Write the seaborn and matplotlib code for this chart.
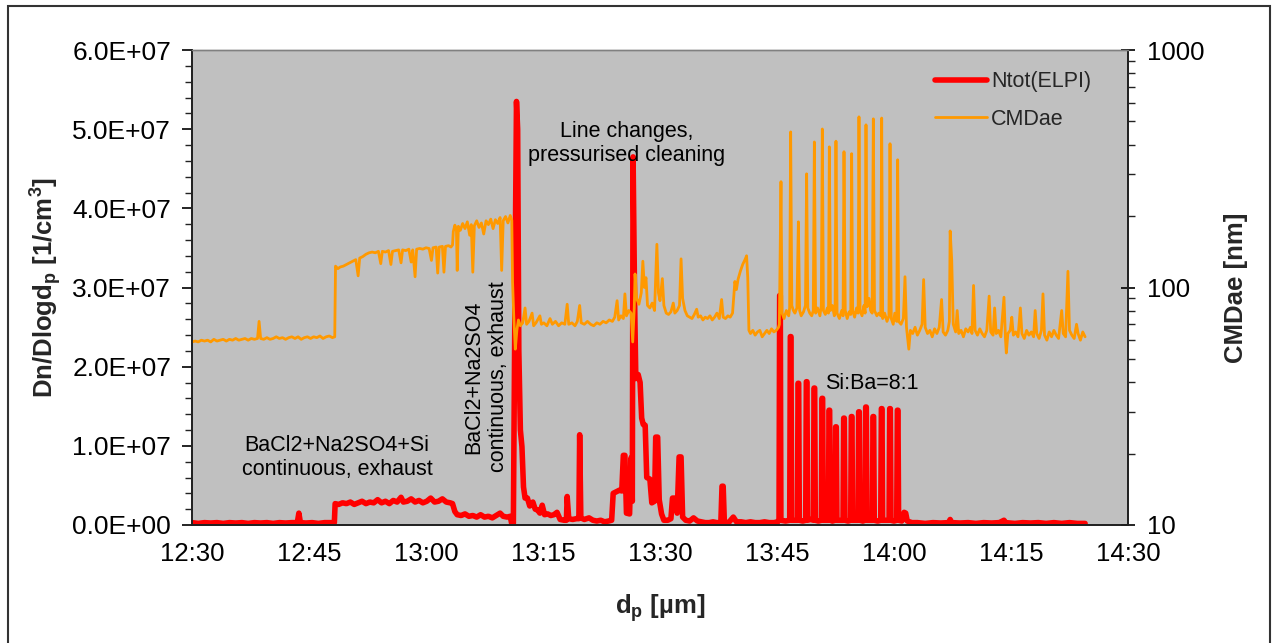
import matplotlib
matplotlib.use("Agg")
import matplotlib.pyplot as plt
import numpy as np
import pandas as pd
import seaborn as sns
from matplotlib.ticker import FuncFormatter, MultipleLocator, FixedLocator, LogLocator, NullFormatter
from matplotlib.patches import Rectangle
from matplotlib.lines import Line2D

# ---------------- data (time = minutes after 12:30) ----------------
xtick_minutes = [0, 15, 30, 45, 60, 75, 90, 105, 120]
xtick_labels = ["12:30", "12:45", "13:00", "13:15", "13:30", "13:45", "14:00", "14:15", "14:30"]

# Ntot(ELPI) in units of 1e6 1/cm3
ntot_points = [
    (0.0, 0.3), (0.8, 0.2), (1.6, 0.3), (2.4, 0.25), (3.2, 0.3), (4.0, 0.2), (4.8, 0.3), (5.6, 0.25),
    (6.4, 0.3), (7.2, 0.2), (8.0, 0.3), (8.8, 0.25), (9.6, 0.3), (10.4, 0.2), (11.2, 0.3), (12.0, 0.25),
    (12.8, 0.3), (13.5, 0.3), (13.7, 1.5), (13.9, 0.3), (14.6, 0.25), (15.4, 0.3), (16.2, 0.2), (17.0, 0.3),
    (17.8, 0.3), (18.25, 0.3), (18.35, 2.7), (18.8, 2.6), (19.3, 2.8), (19.8, 2.7), (20.3, 2.9), (20.8, 2.6),
    (21.3, 2.8), (21.8, 3.0), (22.3, 2.7), (22.8, 2.9), (23.3, 2.8), (23.8, 3.2), (24.3, 2.8), (24.8, 3.0),
    (25.3, 2.7), (25.8, 3.1), (26.3, 2.9), (26.8, 3.5), (27.1, 2.9), (27.6, 3.0), (28.1, 3.3), (28.6, 2.9),
    (29.1, 3.1), (29.6, 2.8), (30.1, 3.0), (30.6, 3.4), (31.1, 2.9), (31.6, 3.0), (32.1, 3.3), (32.6, 2.9),
    (33.1, 2.8), (33.4, 2.7), (33.7, 1.7), (34.0, 1.3), (34.5, 1.2), (35.0, 1.4), (35.5, 1.1), (36.0, 1.2),
    (36.5, 1.0), (37.0, 1.3), (37.5, 1.0), (38.0, 1.1), (38.5, 0.9), (39.0, 1.2), (39.5, 1.5), (39.9, 1.1),
    (40.4, 1.0), (40.8, 1.1), (41.0, 0.1), (41.2, 0.2), (41.45, 35.0), (41.6, 53.5), (41.75, 50.0),
    (41.9, 22.0), (42.1, 12.0), (42.3, 9.9), (42.5, 4.8), (42.7, 3.4), (43.0, 3.4), (43.3, 2.4), (43.7, 2.9),
    (44.0, 2.0), (44.3, 1.9), (44.6, 1.5), (44.9, 2.5), (45.2, 1.3), (45.6, 1.4), (46.0, 1.2), (46.4, 1.3),
    (46.8, 1.6), (47.2, 0.7), (47.7, 0.6), (48.0, 0.6), (48.1, 3.6), (48.3, 0.8), (48.8, 0.7), (49.3, 0.8),
    (49.6, 0.8), (49.7, 11.4), (49.85, 0.9), (50.3, 0.7), (50.9, 0.9), (51.4, 0.6), (51.9, 0.5), (52.4, 0.6),
    (52.9, 0.4), (53.4, 0.5), (53.8, 0.6), (54.0, 4.0), (54.4, 4.2), (54.8, 4.4), (55.1, 4.3), (55.3, 8.8),
    (55.5, 8.8), (55.7, 1.5), (56.1, 1.4), (56.3, 8.5), (56.45, 3.0), (56.55, 46.5), (56.75, 28.0),
    (56.9, 18.5), (57.2, 19.0), (57.45, 18.0), (57.65, 13.5), (57.85, 12.7), (58.1, 12.6), (58.3, 6.0),
    (58.7, 5.8), (58.95, 2.8), (59.3, 3.0), (59.45, 11.1), (59.7, 11.1), (59.9, 3.2), (60.2, 1.4),
    (60.5, 0.6), (61.0, 0.6), (61.4, 0.8), (61.6, 3.4), (62.0, 3.4), (62.2, 1.5), (62.45, 8.6), (62.7, 8.6),
    (62.9, 1.0), (63.3, 0.6), (63.8, 0.5), (64.3, 0.9), (64.8, 0.5), (65.3, 0.4), (65.8, 0.3), (66.3, 0.3),
    (66.8, 0.4), (67.3, 0.3), (67.8, 0.3), (67.95, 4.9), (68.1, 4.9), (68.25, 0.4), (68.8, 0.3), (69.4, 1.0),
    (69.8, 0.4), (70.4, 0.4), (71.0, 0.3), (71.6, 0.4), (72.2, 0.3), (72.8, 0.3), (73.4, 0.4), (74.0, 0.3),
    (74.6, 0.3), (75.1, 0.4),
    (75.26, 0.6), (75.34, 29.0), (75.42, 29.0), (75.50, 0.6), (76.1, 0.5),
    (76.63, 0.6), (76.71, 23.8), (76.79, 23.8), (76.87, 0.6), (77.3, 0.6),
    (77.62, 0.6), (77.70, 17.9), (77.78, 17.9), (77.86, 0.6), (78.3, 0.5),
    (78.68, 0.6), (78.76, 18.1), (78.84, 18.1), (78.92, 0.6), (79.3, 0.7),
    (79.67, 0.6), (79.75, 17.3), (79.83, 17.3), (79.91, 0.6), (80.3, 0.5),
    (80.69, 0.6), (80.77, 16.0), (80.85, 16.0), (80.93, 0.6), (81.3, 0.6),
    (81.59, 0.6), (81.67, 14.5), (81.75, 14.5), (81.83, 0.6), (82.1, 0.5),
    (82.44, 0.6), (82.52, 12.4), (82.60, 12.4), (82.68, 0.6), (83.1, 0.6),
    (83.47, 0.6), (83.55, 13.5), (83.63, 13.5), (83.71, 0.6), (84.1, 0.5),
    (84.45, 0.6), (84.53, 13.7), (84.61, 13.7), (84.69, 0.6), (85.0, 0.6),
    (85.39, 0.6), (85.47, 14.3), (85.55, 14.3), (85.63, 0.6), (86.0, 0.5),
    (86.29, 0.6), (86.37, 14.9), (86.45, 14.9), (86.53, 0.6), (86.9, 0.6),
    (87.23, 0.6), (87.31, 13.7), (87.39, 13.7), (87.47, 0.6), (87.9, 0.5),
    (88.30, 0.6), (88.38, 14.7), (88.46, 14.7), (88.54, 0.6), (89.0, 0.6),
    (89.37, 0.6), (89.45, 14.7), (89.53, 14.7), (89.61, 0.6), (90.0, 0.5),
    (90.35, 0.6), (90.43, 14.5), (90.51, 14.5), (90.59, 0.6),
    (91.0, 0.5), (91.3, 1.6), (91.5, 1.5), (91.7, 0.5), (92.3, 0.3), (93.0, 0.3), (94.0, 0.2), (95.0, 0.3),
    (96.0, 0.25), (97.0, 0.3), (97.2, 0.7), (97.4, 0.3), (98.5, 0.25), (99.5, 0.3), (100.5, 0.2),
    (101.5, 0.3), (102.5, 0.25), (103.5, 0.3), (104.1, 0.6), (104.3, 0.3), (105.5, 0.2), (106.5, 0.3),
    (107.5, 0.25), (108.5, 0.3), (109.5, 0.2), (110.5, 0.3), (111.5, 0.2), (112.5, 0.3), (113.5, 0.2),
    (114.5, 0.2),
]

# CMDae in nm
cmd_points = [
    (0.0, 59.0), (0.4, 59.5), (0.8, 59.0), (1.2, 60.0), (1.6, 59.5), (2.0, 60.0), (2.4, 59.0), (2.8, 60.5),
    (3.2, 59.5), (3.6, 60.0), (4.0, 60.5), (4.4, 59.5), (4.8, 60.5), (5.2, 60.0), (5.6, 61.0), (6.0, 60.0),
    (6.4, 60.5), (6.8, 61.0), (7.2, 60.0), (7.6, 61.0), (8.0, 60.5), (8.4, 61.0), (8.6, 72.0), (8.8, 61.0),
    (9.2, 60.5), (9.6, 61.5), (10.0, 60.5), (10.4, 61.0), (10.8, 62.0), (11.2, 61.0), (11.6, 61.5),
    (12.0, 60.5), (12.4, 61.5), (12.8, 62.0), (13.2, 61.0), (13.6, 62.0), (14.0, 60.5), (14.4, 61.5),
    (14.8, 62.0), (15.2, 61.0), (15.6, 62.0), (16.0, 61.5), (16.4, 62.5), (16.8, 61.0), (17.2, 62.0),
    (17.6, 62.5), (18.0, 61.5), (18.3, 62.0),
    (18.4, 123), (18.7, 120), (19.0, 122), (19.4, 123), (19.8, 125), (20.2, 127), (20.6, 129), (21.0, 131),
    (21.3, 112), (21.5, 133), (21.9, 135), (22.3, 138), (22.7, 140), (23.1, 141), (23.5, 140), (23.9, 142),
    (24.2, 126), (24.4, 142), (24.8, 141), (25.2, 143), (25.5, 125), (25.7, 142), (26.1, 143), (26.5, 144),
    (26.8, 127), (27.0, 144), (27.4, 143), (27.8, 145), (28.1, 128), (28.3, 144), (28.6, 111), (28.8, 145),
    (29.2, 146), (29.6, 145), (30.0, 147), (30.4, 146), (30.7, 130), (30.9, 147), (31.3, 148), (31.5, 115),
    (31.7, 148), (32.1, 149), (32.3, 116), (32.5, 149), (32.9, 150), (33.2, 148), (33.4, 151),
    (33.5, 172), (33.7, 183), (33.9, 176), (34.0, 118), (34.15, 181), (34.4, 174), (34.7, 186), (35.0, 177),
    (35.3, 189), (35.6, 166), (35.8, 184), (36.0, 116), (36.2, 182), (36.5, 191), (36.8, 179), (37.1, 187),
    (37.4, 168), (37.7, 191), (38.0, 184), (38.3, 194), (38.6, 177), (38.9, 193), (39.2, 186), (39.5, 197),
    (39.7, 118), (39.9, 191), (40.2, 199), (40.5, 187), (40.8, 201), (41.0, 192),
    (41.1, 105), (41.25, 76), (41.45, 55), (41.65, 66), (41.85, 73), (42.1, 69), (42.4, 71), (42.7, 82),
    (42.9, 70), (43.2, 72), (43.6, 78), (43.8, 69), (44.1, 71), (44.6, 76), (44.8, 70), (45.1, 71),
    (45.5, 69), (45.9, 74), (46.2, 70), (46.6, 72), (47.0, 69), (47.4, 71), (47.8, 70), (48.1, 85),
    (48.3, 70), (48.7, 71), (49.1, 69), (49.4, 72), (49.7, 84), (49.9, 71), (50.3, 70), (50.7, 72),
    (51.1, 70), (51.5, 69), (51.9, 71), (52.3, 70), (52.7, 72), (53.1, 71), (53.5, 73), (53.9, 72),
    (54.2, 75), (54.5, 88), (54.7, 73), (55.0, 76), (55.3, 74), (55.5, 94), (55.7, 76), (56.0, 80),
    (56.3, 78), (56.5, 59), (56.7, 82), (56.8, 114), (57.0, 90), (57.3, 85), (57.6, 95), (57.8, 129),
    (58.0, 100), (58.2, 110), (58.4, 84), (58.7, 82), (59.0, 86), (59.3, 80), (59.6, 152), (59.8, 95),
    (60.0, 88), (60.3, 109), (60.5, 84), (60.8, 78), (61.1, 77), (61.4, 79), (61.7, 86), (61.9, 78),
    (62.2, 80), (62.5, 84), (62.7, 132), (62.9, 90), (63.2, 80), (63.5, 76), (63.8, 75), (64.1, 74),
    (64.4, 77), (64.7, 81), (64.9, 75), (65.2, 76), (65.5, 73), (65.8, 75), (66.1, 74), (66.4, 76),
    (66.7, 73), (67.0, 75), (67.3, 78), (67.6, 74), (67.9, 89), (68.1, 75), (68.4, 74), (68.7, 76),
    (69.0, 75), (69.3, 78), (69.6, 106), (69.8, 98), (70.0, 108), (70.3, 117), (70.6, 125), (70.9, 131),
    (71.1, 136), (71.25, 110), (71.4, 66),
    (71.6, 64), (71.9, 66), (72.2, 63), (72.5, 65), (72.8, 66), (73.1, 62), (73.4, 64), (73.7, 66),
    (74.0, 64), (74.3, 67), (74.6, 65), (74.9, 66), (75.2, 68),
    (75.3, 70), (75.51, 279), (75.65, 78), (75.9, 74), (76.2, 80), (76.5, 76), (76.62, 82), (76.75, 452),
    (76.9, 84), (77.1, 80), (77.3, 78), (77.55, 82), (77.74, 189), (77.9, 80), (78.1, 76), (78.4, 79),
    (78.65, 84), (78.80, 301), (78.95, 82), (79.2, 78), (79.45, 76), (79.65, 80), (79.79, 410), (79.95, 78),
    (80.2, 82), (80.5, 76), (80.68, 84), (80.81, 465), (80.95, 80), (81.2, 77), (81.45, 82), (81.6, 78),
    (81.71, 391), (81.85, 80), (82.1, 84), (82.35, 76), (82.45, 82), (82.56, 413), (82.7, 78), (83.0, 74),
    (83.3, 80), (83.47, 76), (83.59, 373), (83.75, 80), (84.0, 74), (84.25, 79), (84.45, 77), (84.57, 366),
    (84.7, 80), (84.95, 75), (85.2, 82), (85.4, 78), (85.51, 523), (85.65, 80), (85.9, 76), (86.15, 84),
    (86.3, 78), (86.41, 484), (86.55, 83), (86.8, 90), (87.0, 80), (87.2, 78), (87.35, 513), (87.5, 80),
    (87.8, 76), (88.05, 78), (88.3, 76), (88.42, 517), (88.55, 74), (88.8, 78), (89.1, 72), (89.35, 76),
    (89.49, 403), (89.65, 74), (89.9, 70), (90.1, 78), (90.35, 72), (90.47, 345), (90.6, 72), (90.9, 70),
    (91.2, 74), (91.41, 111), (91.6, 68), (91.9, 55), (92.1, 66),
    (92.4, 64), (92.7, 68), (93.0, 63), (93.3, 66), (93.6, 70), (93.8, 108), (94.0, 68), (94.3, 64),
    (94.6, 66), (94.9, 62), (95.2, 67), (95.5, 64), (95.8, 68), (96.1, 89), (96.3, 65), (96.6, 63),
    (96.9, 66), (97.1, 72), (97.2, 173), (97.4, 130), (97.6, 70), (97.9, 65), (98.1, 80), (98.3, 64),
    (98.6, 66), (98.9, 62), (99.2, 67), (99.5, 65), (99.8, 68), (100.0, 64), (100.2, 102), (100.4, 66),
    (100.7, 63), (101.0, 67), (101.3, 64), (101.6, 62), (101.9, 66), (102.2, 92), (102.4, 65), (102.7, 63),
    (102.9, 82), (103.1, 64), (103.4, 66), (103.7, 62), (104.1, 91), (104.3, 60), (104.4, 53), (104.6, 64),
    (104.9, 66), (105.1, 75), (105.3, 63), (105.6, 65), (105.9, 62), (106.2, 82), (106.4, 64), (106.7, 61),
    (107.0, 66), (107.3, 63), (107.6, 65), (107.9, 62), (108.1, 80), (108.3, 64), (108.6, 61), (108.9, 66),
    (109.1, 94), (109.3, 63), (109.6, 60), (109.9, 65), (110.2, 62), (110.5, 66), (110.8, 63), (111.1, 61),
    (111.5, 80), (111.7, 64), (112.0, 62), (112.3, 117), (112.5, 66), (112.8, 63), (113.1, 61), (113.4, 70),
    (113.6, 64), (113.9, 60), (114.2, 65), (114.5, 62),
]

annotations = [
    ("BaCl2+Na2SO4+Si\ncontinuous, exhaust", 18.6, 8.5e6, 0),
    ("BaCl2+Na2SO4\ncontinuous, exhaust", 37.7, 18.7e6, 90),
    ("Line changes,\npressurised cleaning", 55.7, 48.2e6, 0),
    ("Si:Ba=8:1", 87.1, 17.9e6, 0),
]

# ---------------- styling ----------------
sns.set_style("white")
plt.rcParams["font.family"] = ["Liberation Sans", "DejaVu Sans"]
plt.rcParams["mathtext.default"] = "regular"

W, H = 1276, 643
fig = plt.figure(figsize=(W / 100, H / 100), dpi=100)
fig.patch.set_facecolor("white")
ax = fig.add_axes([192 / W, 1 - 525 / H, 936 / W, 475 / H])
ax.set_facecolor("#C0C0C0")

ntot_df = pd.DataFrame(ntot_points, columns=["time", "ntot"])
ntot_df["ntot"] = ntot_df["ntot"] * 1e6
cmd_df = pd.DataFrame(cmd_points, columns=["time", "cmd"])

red = "#FF0000"
orange = "#FF9900"
red_lw = 4.0
orange_lw = 2.0

sns.lineplot(data=ntot_df, x="time", y="ntot", ax=ax, color=red, linewidth=red_lw,
             estimator=None, sort=False, legend=False)
ax2 = ax.twinx()
sns.lineplot(data=cmd_df, x="time", y="cmd", ax=ax2, color=orange, linewidth=orange_lw,
             estimator=None, sort=False, legend=False)

ax.set_xlim(0, 120)
ax.set_ylim(0, 6e7)
ax2.set_yscale("log")
ax2.set_ylim(10, 1000)

# x ticks
ax.xaxis.set_major_locator(FixedLocator(xtick_minutes))
ax.set_xticklabels(xtick_labels)
ax.xaxis.set_minor_locator(MultipleLocator(5))
ax.tick_params(axis="x", which="major", direction="inout", length=12, width=1.2,
               pad=6, labelsize=18.5, colors="black")
ax.tick_params(axis="x", which="minor", direction="out", length=6, width=1.0, colors="#222222")

# left y ticks
ax.yaxis.set_major_locator(MultipleLocator(1e7))
ax.yaxis.set_minor_locator(MultipleLocator(2e6))
ax.yaxis.set_major_formatter(FuncFormatter(lambda v, p: f"{v:.1E}"))
ax.tick_params(axis="y", which="major", direction="out", length=7, width=1.2, pad=8,
               labelsize=19, colors="black")
ax.tick_params(axis="y", which="minor", direction="out", length=5, width=1.0, colors="#222222")

# right y ticks
ax2.yaxis.set_major_locator(FixedLocator([10, 100, 1000]))
ax2.yaxis.set_minor_locator(LogLocator(base=10, subs=np.arange(2, 10)))
ax2.yaxis.set_major_formatter(FuncFormatter(lambda v, p: f"{v:g}"))
ax2.yaxis.set_minor_formatter(NullFormatter())
ax2.tick_params(axis="y", which="major", direction="inout", length=10, width=1.2, pad=9,
                labelsize=18.5, colors="black")
ax2.tick_params(axis="y", which="minor", direction="out", length=5, width=1.0, colors="#222222")

# spines
for a in (ax, ax2):
    for s in ("left", "bottom", "right"):
        a.spines[s].set_color("#222222")
        a.spines[s].set_linewidth(1.3)
    a.spines["top"].set_color("#808080")
    a.spines["top"].set_linewidth(1.0)

# labels
ax.set_ylabel(r"Dn/Dlogd$_{\mathdefault{p}}$ [1/cm$^{\mathdefault{3}}$]", fontsize=18.5, fontweight="bold")
ax.yaxis.set_label_coords(-0.137, 0.5)
ax2.set_ylabel("CMDae [nm]", fontsize=18.5, fontweight="bold")
ax2.yaxis.set_label_coords(1.103, 0.5)
ax.set_xlabel(r"d$_{\mathdefault{p}}$ [µm]", fontsize=18.5, fontweight="bold")
ax.xaxis.set_label_coords(0.5, -0.141)

# annotations
for txt, tx, ty, rot in annotations:
    ax.text(tx, ty, txt, fontsize=15.5, ha="center", va="center", rotation=rot,
            multialignment="center", color="black", zorder=5)

# legend
handles = [Line2D([], [], color=red, linewidth=red_lw), Line2D([], [], color=orange, linewidth=orange_lw)]
ax2.legend(handles, ["Ntot(ELPI)", "CMDae"], loc="upper left", bbox_to_anchor=(0.794, 0.955),
           frameon=False, fontsize=15.5, handlelength=2.4, handletextpad=0.2,
           labelspacing=0.75, borderaxespad=0, borderpad=0)

# outer border
fig.patches.append(Rectangle((8 / W, -0.01), (1270 - 8) / W, 1.01 - 6 / H,
                             transform=fig.transFigure, fill=False, edgecolor="#333333",
                             linewidth=1.5))

fig.savefig("out.png", dpi=100)
